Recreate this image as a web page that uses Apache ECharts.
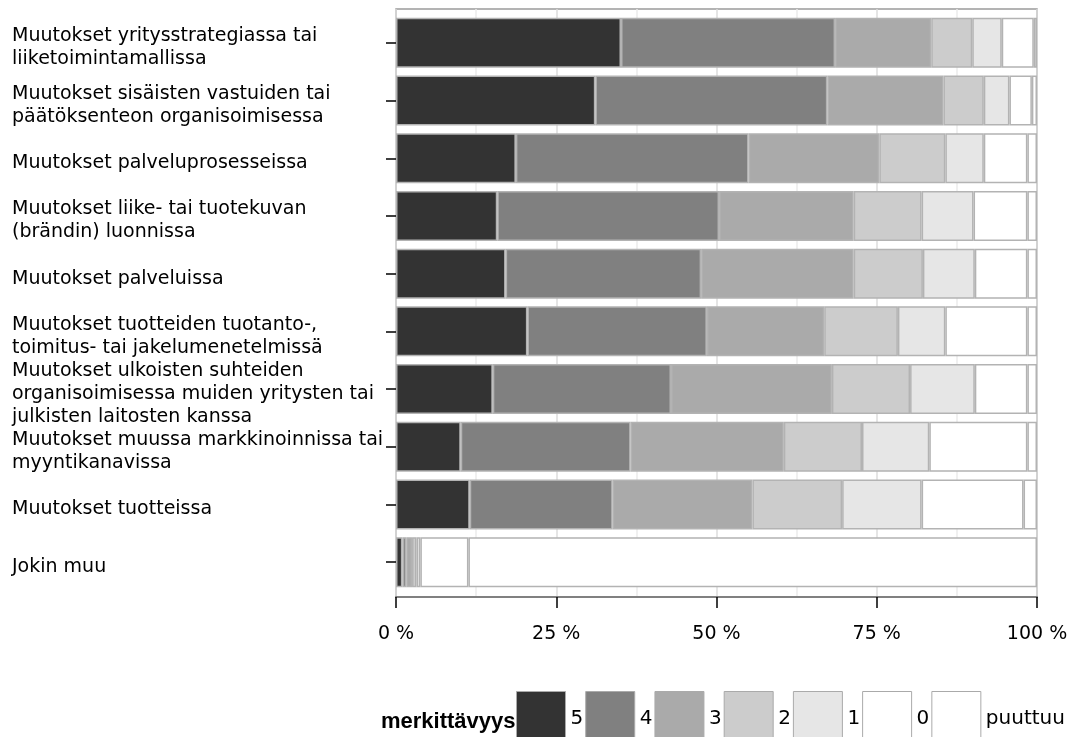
<!DOCTYPE html>
<html>
<head>
<meta charset="utf-8">
<script src="https://cdn.jsdelivr.net/npm/echarts@6/dist/echarts.min.js"></script>
<style>
html,body{margin:0;padding:0;background:#fff;}
#chart{width:1075px;height:737px;}
</style>
</head>
<body>
<div id="chart"></div>
<script>
var categories = [
  "Muutokset yritysstrategiassa tai\nliiketoimintamallissa",
  "Muutokset sisäisten vastuiden tai\npäätöksenteon organisoimisessa",
  "Muutokset palveluprosesseissa",
  "Muutokset liike- tai tuotekuvan\n(brändin) luonnissa",
  "Muutokset palveluissa",
  "Muutokset tuotteiden tuotanto-,\ntoimitus- tai jakelumenetelmissä",
  "Muutokset ulkoisten suhteiden\norganisoimisessa muiden yritysten tai\njulkisten laitosten kanssa",
  "Muutokset muussa markkinoinnissa tai\nmyyntikanavissa",
  "Muutokset tuotteissa",
  "Jokin muu"
];
var seriesNames = ["5", "4", "3", "2", "1", "0", "puuttuu"];
var s5 = [35.1, 31.1, 18.7, 15.8, 17.1, 20.5, 15.1, 10.1, 11.5, 1.0];
var s4 = [33.4, 36.2, 36.3, 34.6, 30.5, 28.0, 27.8, 26.5, 22.3, 0.6];
var s3 = [15.0, 18.1, 20.4, 21.0, 23.8, 18.3, 25.1, 23.9, 21.8, 0.9];
var s2 = [6.4, 6.3, 10.3, 10.6, 10.8, 11.5, 12.2, 12.2, 14.0, 0.7];
var s1 = [4.6, 4.0, 6.0, 8.1, 8.1, 7.4, 10.1, 10.5, 12.4, 0.6];
var s0 = [5.0, 3.5, 6.8, 8.4, 8.2, 12.8, 8.2, 15.3, 15.9, 7.5];
var sP = [0.5, 0.8, 1.5, 1.5, 1.5, 1.5, 1.5, 1.5, 2.1, 88.7];
var xTicks = [0, 25, 50, 75, 100];
var legendTitle = "merkittävyys";

var seriesData = [s5, s4, s3, s2, s1, s0, sP];
var colors = ["#333333", "#808080", "#aaaaaa", "#cccccc", "#e6e6e6", "#ffffff", "#ffffff"];
var FONT = "DejaVu Sans";

var chart = echarts.init(document.getElementById('chart'), null, {renderer: 'canvas'});

var series = seriesNames.map(function (name, i) {
  return {
    name: name,
    type: 'bar',
    stack: 'total',
    xAxisIndex: 0,
    yAxisIndex: 0,
    barWidth: 50,
    data: seriesData[i],
    itemStyle: {color: colors[i], borderColor: '#b3b3b3', borderWidth: 1.5},
    emphasis: {disabled: true},
    animation: false
  };
});

var option = {
  animation: false,
  title: {
    text: legendTitle,
    left: 376,
    top: 706,
    textStyle: {fontFamily: "Liberation Sans", fontWeight: 'bold', fontSize: 22, color: '#000'}
  },
  legend: {
    data: seriesNames,
    left: 516,
    top: 691,
    padding: 0,
    orient: 'horizontal',
    icon: 'rect',
    itemWidth: 49,
    itemHeight: 54,
    itemGap: 2,
    textStyle: {fontFamily: FONT, fontSize: 20, color: '#000'},
    itemStyle: {borderColor: '#aaaaaa', borderWidth: 1},
    selectedMode: false
  },
  grid: [
    {left: 396, right: 38, top: 14, bottom: 146, containLabel: false},
    {left: 396, right: 38, top: 9, bottom: 140, containLabel: false, show: true, borderColor: '#9a9a9a', borderWidth: 1.5, backgroundColor: 'transparent'},
    {left: 396, right: 38, top: 19, bottom: 141, containLabel: false}
  ],
  xAxis: [
    {
      gridIndex: 0, type: 'value', min: 0, max: 100,
      axisLine: {show: false}, axisTick: {show: false}, axisLabel: {show: false}, splitLine: {show: false}
    },
    {
      gridIndex: 1, type: 'value', min: 0, max: 100, interval: 25,
      axisLine: {show: true, lineStyle: {color: '#808080', width: 2}},
      axisTick: {show: true, length: 11, lineStyle: {color: '#000', width: 1.5}},
      axisLabel: {show: true, margin: 28, fontFamily: FONT, fontSize: 19, color: '#000',
        formatter: function (v) { return v + ' %'; }},
      splitLine: {show: true, lineStyle: {color: '#dcdcdc', width: 1.5}},
      minorTick: {show: false, splitNumber: 2},
      minorSplitLine: {show: true, lineStyle: {color: '#ececec', width: 1.5}}
    },
    {
      gridIndex: 2, type: 'value', min: 0, max: 100, show: false
    }
  ],
  yAxis: [
    {
      gridIndex: 0, type: 'category', data: categories, inverse: true,
      axisLine: {show: false},
      axisTick: {show: true, alignWithLabel: true, length: 10, lineStyle: {color: '#000', width: 1.5}},
      axisLabel: {show: false}
    },
    {
      gridIndex: 1, type: 'value', min: 0, max: 1,
      axisLine: {show: false}, axisTick: {show: false}, axisLabel: {show: false}, splitLine: {show: false}
    },
    {
      gridIndex: 2, type: 'category', data: categories, inverse: true,
      axisLine: {show: false}, axisTick: {show: false}, splitLine: {show: false},
      axisLabel: {show: true, align: 'left', margin: 384, fontFamily: FONT, fontSize: 19, lineHeight: 23,
        color: '#000', interval: 0}
    }
  ],
  series: series
};
chart.setOption(option);
</script>
</body>
</html>
